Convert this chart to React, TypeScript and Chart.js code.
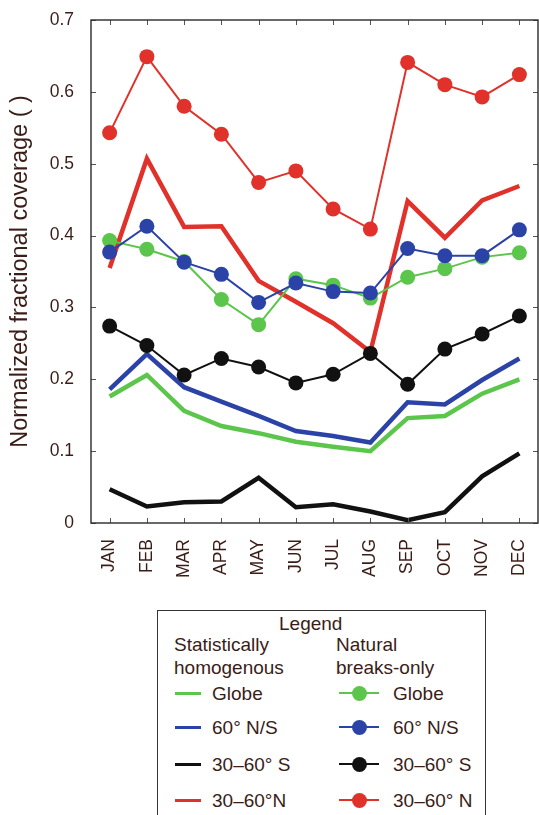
import React, { useEffect, useRef } from "react";
import { Chart, registerables } from "chart.js";

Chart.register(...registerables);

// Month categories
const months = ["JAN", "FEB", "MAR", "APR", "MAY", "JUN", "JUL", "AUG", "SEP", "OCT", "NOV", "DEC"];

// Y-axis tick values
const yTicks = [0, 0.1, 0.2, 0.3, 0.4, 0.5, 0.6, 0.7];

// Statistically homogenous (thick lines)
const homGlobe = [0.176, 0.206, 0.156, 0.135, 0.125, 0.113, 0.106, 0.100, 0.146, 0.149, 0.180, 0.200];
const homNS60 = [0.186, 0.235, 0.189, 0.169, 0.149, 0.128, 0.121, 0.112, 0.168, 0.165, 0.199, 0.229];
const homS3060 = [0.047, 0.023, 0.029, 0.030, 0.063, 0.022, 0.026, 0.016, 0.004, 0.015, 0.065, 0.097];
const homN3060 = [0.355, 0.507, 0.412, 0.413, 0.337, 0.308, 0.278, 0.238, 0.448, 0.397, 0.449, 0.469];

// Natural breaks-only (lines with markers)
const nbGlobe = [0.393, 0.381, 0.364, 0.311, 0.276, 0.340, 0.331, 0.313, 0.342, 0.354, 0.370, 0.376];
const nbNS60 = [0.377, 0.413, 0.363, 0.346, 0.307, 0.334, 0.322, 0.320, 0.382, 0.372, 0.372, 0.408];
const nbS3060 = [0.274, 0.247, 0.206, 0.229, 0.217, 0.195, 0.207, 0.236, 0.193, 0.242, 0.263, 0.288];
const nbN3060 = [0.543, 0.649, 0.580, 0.541, 0.474, 0.490, 0.437, 0.409, 0.641, 0.610, 0.593, 0.624];

const GREEN = "#5cc64c";
const BLUE = "#2b43a6";
const BLACK = "#111111";
const RED = "#e0312a";
const TEXT = "#3a1d17";
const FONT = "'Liberation Sans', Arial, Helvetica, sans-serif";

const regions = ["Globe", "60\u00b0 N/S", "30\u201360\u00b0 S", "30\u201360\u00b0N"];
const regionsRight = ["Globe", "60\u00b0 N/S", "30\u201360\u00b0 S", "30\u201360\u00b0 N"];
const colors = [GREEN, BLUE, BLACK, RED];

// Plot area bounds inside the canvas
const AREA_LEFT = 91;
const AREA_RIGHT = 538;
const AREA_TOP = 20;
const AREA_BOTTOM = 523;
const CANVAS_W = 539;
const CANVAS_H = 600;

// Pins the plot area's right edge (rotated month labels otherwise reserve extra room)
const areaPlugin = {
  id: "pinArea",
  afterLayout(chart: any) {
    const xs = chart.scales.x;
    chart.chartArea.right = AREA_RIGHT;
    chart.chartArea.width = AREA_RIGHT - chart.chartArea.left;
    xs.right = AREA_RIGHT;
    xs.width = AREA_RIGHT - xs.left;
    xs.configure();
  },
};

// Frame around the plot area with short inward tick marks on all four sides
const framePlugin = {
  id: "frameTicks",
  afterDraw(chart: any) {
    const { ctx, chartArea } = chart;
    const xs = chart.scales.x;
    const ys = chart.scales.y;
    const { left, right, top, bottom } = chartArea;
    const len = 5;
    ctx.save();
    ctx.strokeStyle = "#555";
    ctx.lineWidth = 1;
    ctx.beginPath();
    for (let i = 0; i < months.length; i++) {
      const x = Math.round(xs.getPixelForTick(i)) + 0.5;
      ctx.moveTo(x, top);
      ctx.lineTo(x, top + len);
      ctx.moveTo(x, bottom);
      ctx.lineTo(x, bottom - len);
    }
    for (const v of yTicks) {
      const y = Math.round(ys.getPixelForValue(v)) + 0.5;
      ctx.moveTo(left, y);
      ctx.lineTo(left + len, y);
      ctx.moveTo(right, y);
      ctx.lineTo(right - len, y);
    }
    ctx.stroke();
    ctx.strokeStyle = "#2a2a2a";
    ctx.lineWidth = 1.4;
    ctx.strokeRect(left, top, right - left, bottom - top);
    ctx.restore();
  },
};

export default function App() {
  const ref = useRef<HTMLCanvasElement>(null);

  useEffect(() => {
    if (!ref.current) return;
    const thick = (data: number[], color: string, order: number) => ({
      data,
      borderColor: color,
      backgroundColor: color,
      borderWidth: 4.5,
      pointRadius: 0,
      pointHoverRadius: 0,
      tension: 0,
      order,
    });
    const dotted = (data: number[], color: string, order: number) => ({
      data,
      borderColor: color,
      backgroundColor: color,
      borderWidth: 2,
      pointRadius: 7.5,
      pointBorderWidth: 0,
      pointBackgroundColor: color,
      tension: 0,
      order,
    });
    const chart = new Chart(ref.current, {
      type: "line",
      data: {
        labels: months,
        datasets: [
          thick(homGlobe, GREEN, 8),
          thick(homNS60, BLUE, 7),
          thick(homS3060, BLACK, 6),
          thick(homN3060, RED, 5),
          dotted(nbGlobe, GREEN, 4),
          dotted(nbNS60, BLUE, 3),
          dotted(nbS3060, BLACK, 2),
          dotted(nbN3060, RED, 1),
        ],
      },
      options: {
        responsive: false,
        animation: false,
        layout: { padding: { left: 0, right: CANVAS_W - AREA_RIGHT, top: AREA_TOP, bottom: 0 } },
        plugins: { legend: { display: false }, tooltip: { enabled: false } },
        scales: {
          x: {
            type: "category",
            offset: true,
            grid: { display: false },
            border: { display: false },
            ticks: {
              color: TEXT,
              font: { family: FONT, size: 17.5 },
              minRotation: 90,
              maxRotation: 90,
              padding: 8,
            },
            afterFit: (s: any) => {
              s.height = CANVAS_H - AREA_BOTTOM;
              s.paddingLeft = 0;
              s.paddingRight = 0;
            },
          },
          y: {
            min: 0,
            max: 0.7,
            grid: { display: false },
            border: { display: false },
            afterBuildTicks: (s: any) => {
              s.ticks = yTicks.map((v) => ({ value: v }));
            },
            ticks: {
              color: TEXT,
              font: { family: FONT, size: 17.5 },
              padding: 9,
            },
            title: {
              display: true,
              text: "Normalized fractional coverage ( )",
              color: TEXT,
              font: { family: FONT, size: 23.5 },
              padding: { top: 6, bottom: 0 },
            },
            afterFit: (s: any) => {
              s.width = AREA_LEFT;
            },
          },
        },
      },
      plugins: [areaPlugin, framePlugin],
    });
    return () => chart.destroy();
  }, []);

  const txt: React.CSSProperties = {
    position: "absolute",
    fontFamily: FONT,
    fontSize: 19,
    color: TEXT,
    lineHeight: "23px",
    whiteSpace: "nowrap",
  };

  const rowY = [693, 727, 764, 800];

  return (
    <div style={{ position: "absolute", left: 0, top: 0, width: 539, height: 815, background: "#fff", overflow: "hidden" }}>
      <canvas
        ref={ref}
        width={CANVAS_W}
        height={CANVAS_H}
        style={{ position: "absolute", left: 0, top: 0, width: CANVAS_W, height: CANVAS_H }}
      />
      <div
        style={{
          position: "absolute",
          left: 157,
          top: 610,
          width: 329,
          height: 220,
          border: "1.3px solid #333",
          boxSizing: "border-box",
          background: "#fff",
        }}
      />
      <div style={{ ...txt, left: 279, top: 612 }}>Legend</div>
      <div style={{ ...txt, left: 174, top: 633 }}>Statistically</div>
      <div style={{ ...txt, left: 174, top: 656 }}>homogenous</div>
      <div style={{ ...txt, left: 336, top: 633 }}>Natural</div>
      <div style={{ ...txt, left: 336, top: 656 }}>breaks-only</div>
      {regions.map((r, i) => (
        <React.Fragment key={r}>
          <div style={{ position: "absolute", left: 175, top: rowY[i] - 1.5, width: 26, height: 3, background: colors[i] }} />
          <div style={{ ...txt, left: 212, top: rowY[i] - 11.5 }}>{r}</div>
          <div style={{ position: "absolute", left: 339, top: rowY[i] - 1, width: 40, height: 2, background: colors[i] }} />
          <div
            style={{
              position: "absolute",
              left: 359 - 7.5,
              top: rowY[i] - 7.5,
              width: 15,
              height: 15,
              borderRadius: "50%",
              background: colors[i],
            }}
          />
          <div style={{ ...txt, left: 393, top: rowY[i] - 11.5 }}>{regionsRight[i]}</div>
        </React.Fragment>
      ))}
    </div>
  );
}
